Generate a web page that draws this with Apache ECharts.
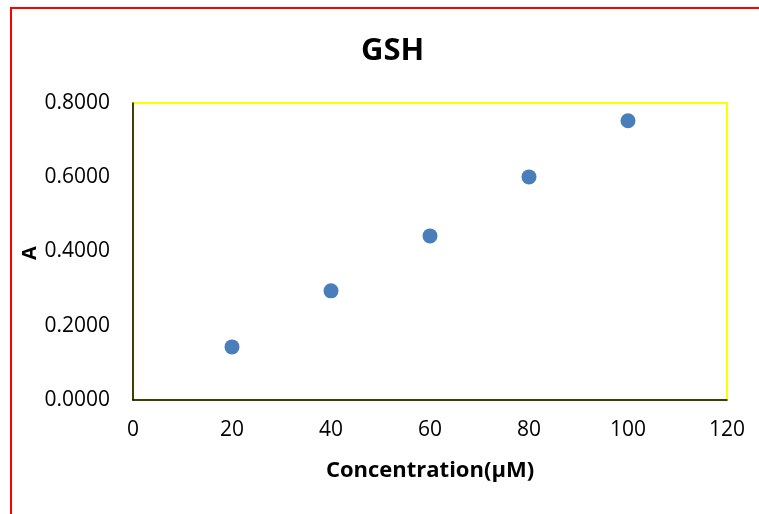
<!DOCTYPE html>
<html>
<head>
<meta charset="utf-8">
<script src="https://cdn.jsdelivr.net/npm/echarts@6/dist/echarts.min.js"></script>
<style>
  html, body { margin: 0; padding: 0; background: #fff; overflow: hidden; }
  #chart { width: 759px; height: 514px; }
</style>
</head>
<body>
<div id="chart"></div>
<script>
// GSH standard curve: absorbance vs. concentration
const concentrations = [20, 40, 60, 80, 100];
const absorbance = [0.143, 0.294, 0.442, 0.601, 0.752];
const xTicks = { min: 0, max: 120, interval: 20 };
const yTicks = { min: 0, max: 0.8, interval: 0.2 };
const yAxisTitle = 'A';

const points = concentrations.map((c, i) => [c, absorbance[i]]);
const FONT = '"Open Sans", "Liberation Sans", sans-serif';

const chart = echarts.init(document.getElementById('chart'), null, { renderer: 'canvas' });
chart.setOption({
  backgroundColor: '#ffffff',
  animation: false,
  title: {
    text: 'GSH',
    left: 356,
    top: 31,
    textStyle: { fontFamily: FONT, fontSize: 31, fontWeight: 'bold', color: '#000' }
  },
  graphic: [{
    type: 'rect',
    shape: { x: 11, y: 8, width: 800, height: 560 },
    style: { fill: 'none', stroke: '#ff0000', lineWidth: 2 },
    silent: true
  }, {
    // rotated y-axis title, placed freely so it can sit close to the tick labels
    type: 'text',
    x: 30, y: 253,
    rotation: Math.PI / 2,
    style: {
      text: yAxisTitle,
      font: 'bold 20px ' + FONT,
      fill: '#000',
      align: 'center',
      verticalAlign: 'middle'
    },
    silent: true
  }],
  grid: {
    left: 133, top: 103, right: 32, bottom: 114,
    show: true, borderColor: '#ffff00', borderWidth: 2, backgroundColor: 'transparent'
  },
  xAxis: {
    type: 'value',
    min: xTicks.min, max: xTicks.max, interval: xTicks.interval,
    name: 'Concentration(μM)',
    nameLocation: 'middle',
    nameGap: 60,
    nameTextStyle: { fontFamily: FONT, fontSize: 22, fontWeight: 'bold', color: '#000' },
    axisLine: { show: true, onZero: false, lineStyle: { color: '#000', width: 1.5 } },
    axisTick: { show: false },
    splitLine: { show: false },
    axisLabel: { fontFamily: FONT, fontSize: 21, color: '#000', margin: 20 }
  },
  yAxis: {
    type: 'value',
    min: yTicks.min, max: yTicks.max, interval: yTicks.interval,
    axisLine: { show: true, onZero: false, lineStyle: { color: '#000', width: 1.5 } },
    axisTick: { show: false },
    splitLine: { show: false },
    axisLabel: {
      fontFamily: FONT, fontSize: 21, color: '#000', margin: 23,
      formatter: v => v.toFixed(4)
    }
  },
  series: [{
    type: 'scatter',
    data: points,
    symbol: 'circle',
    symbolSize: 15,
    itemStyle: { color: '#4a7ebb', opacity: 1 }
  }]
});
</script>
</body>
</html>
